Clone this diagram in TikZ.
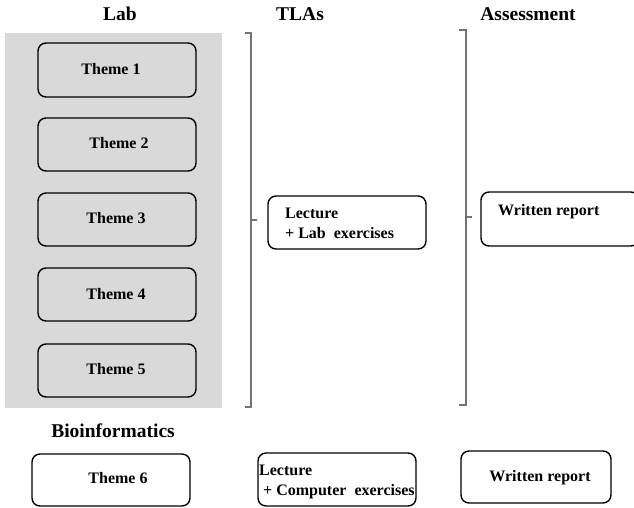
\documentclass[tikz,border=0pt]{standalone}
\usepackage{fontspec}
\setmainfont{Liberation Serif}
\begin{document}
\begin{tikzpicture}[x=1pt,y=-1pt,
  box/.style={draw=black, line width=1.4pt, rounded corners=8pt, inner sep=0pt, minimum width=158pt, minimum height=53pt},
  txt/.style={font=\fontsize{16}{18}\selectfont\bfseries, inner sep=0pt},
  ttl/.style={font=\fontsize{19.5}{22}\selectfont\bfseries, inner sep=0pt},
  brk/.style={draw=black!55, line width=1.2pt}]
\useasboundingbox (0,0) rectangle (634,507);
% titles
\node[ttl, anchor=base] (tlab) at (120,20.5) {Lab};
\node[ttl, anchor=base] (ttla) at (300,20.5) {TLAs};
\node[ttl, anchor=base] (tass) at (528,20.5) {Assessment};
\node[ttl, anchor=base] (tbio) at (113,437.5) {Bioinformatics};
% gray panel
\fill[black!15] (5,33) rectangle (222,408);
% theme boxes
\node[box, minimum height=54pt] (b1) at (117,70) {};
\node[box] (b2) at (117,144.5) {};
\node[box] (b3) at (117,219.5) {};
\node[box] (b4) at (117,294.5) {};
\node[box] (b5) at (117,370.5) {};
\node[txt, anchor=base] (x1) at (111,74.5) {Theme 1};
\node[txt, anchor=base] (x2) at (119,148.5) {Theme 2};
\node[txt, anchor=base] (x3) at (116,223.5) {Theme 3};
\node[txt, anchor=base] (x4) at (116,299.5) {Theme 4};
\node[txt, anchor=base] (x5) at (116,374.5) {Theme 5};
% TLA box
\node[box] (tl) at (347,222.5) {};
\node[txt, anchor=base west] (l1) at (285,218.5) {Lecture};
\node[txt, anchor=base west] (l2) at (285,238.5) {+ Lab\hspace{4pt} exercises};
% Written report box
\node[box, minimum height=54pt] (wr) at (560,219) {};
\node[txt, anchor=base west] (w1) at (498,215.5) {Written report};
% brackets
\coordinate (a1) at (245,33); \coordinate (a2) at (251,33);
\coordinate (a3) at (251,407); \coordinate (a4) at (245,407);
\coordinate (a5) at (251,220); \coordinate (a6) at (257,220);
\draw[brk] (a1) -- (a2) -- (a3) -- (a4);
\draw[brk] (a5) -- (a6);
\coordinate (c1) at (459,30); \coordinate (c2) at (466,30);
\coordinate (c3) at (466,405); \coordinate (c4) at (459,405);
\coordinate (c5) at (466,217); \coordinate (c6) at (472,217);
\draw[brk] (c1) -- (c2) -- (c3) -- (c4);
\draw[brk] (c5) -- (c6);
% bottom row
\node[box, minimum height=52pt] (b6) at (111,480) {};
\node[txt, anchor=base] (x6) at (118,483.5) {Theme 6};
\node[box] (lc) at (337,479.5) {};
\node[txt, anchor=base west] (m1) at (259,475.5) {Lecture};
\node[txt, anchor=base west] (m2) at (263,495.5) {+ Computer\hspace{4pt} exercises};
\node[box, minimum width=150pt, minimum height=52pt] (wr2) at (536,477) {};
\node[txt, anchor=base] (w2) at (540,481.5) {Written report};
\end{tikzpicture}
\end{document}
